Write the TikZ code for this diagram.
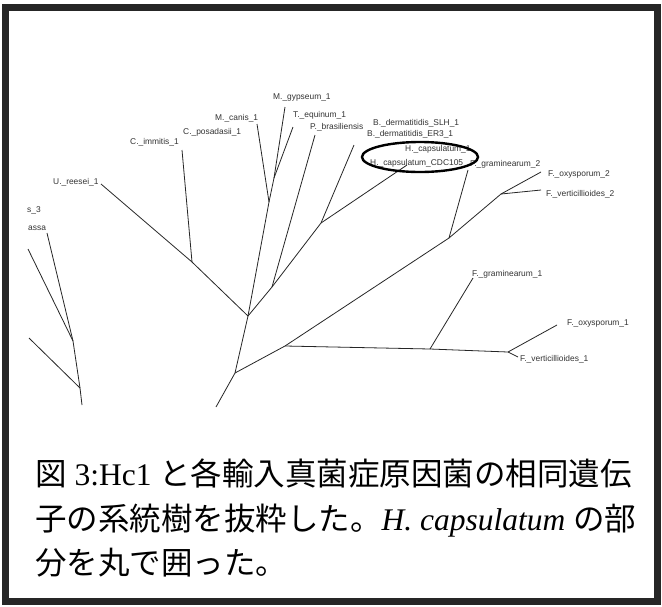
\documentclass[tikz,border=0pt]{standalone}
\usepackage{fontspec}
\setmainfont{Liberation Serif}
\newfontfamily\jpfont{Noto Sans CJK JP}
\newfontfamily\labfont{Liberation Sans}
\usetikzlibrary{shapes.geometric}
\tikzset{
  branch/.style={line width=0.8pt, draw=black!85},
  taxon/.style={anchor=base west, inner sep=0pt, font=\labfont\fontsize{8.4}{9}\selectfont, text=black!80},
  capline/.style={anchor=base west, inner sep=0pt, font=\fontsize{31.5}{40}\selectfont},
  frame/.style={line width=7pt, draw=black!85},
  ring/.style={draw=black, line width=2.4pt, ellipse, minimum width=116pt, minimum height=30pt, inner sep=0pt}
}
\begin{document}
\begin{tikzpicture}[x=1pt,y=-1pt]
\useasboundingbox (0,0) rectangle (662,606);
\fill[white] (0,0) rectangle (662,606);
\draw[frame] (5.5,7) rectangle (657,601.5);

% internal nodes
\coordinate (G) at (235,373);
\coordinate (R) at (216,407);
\coordinate (B) at (248,316);
\coordinate (A) at (192,262);
\coordinate (C) at (269,202);
\coordinate (D) at (274,178);
\coordinate (E) at (272,287);
\coordinate (F) at (321,223);
\coordinate (H) at (285,346);
\coordinate (I) at (449,238);
\coordinate (J) at (501,194);
\coordinate (K) at (430,349);
\coordinate (L) at (508,352);
% leaf ends
\coordinate (uE) at (101,184);
\coordinate (ciE) at (182,150);
\coordinate (mcE) at (257,124);
\coordinate (mgE) at (285,107);
\coordinate (teE) at (293,127);
\coordinate (pbE) at (315,135);
\coordinate (bdE) at (354,145);
\coordinate (hcE) at (407,165);
\coordinate (fg2E) at (468,170);
\coordinate (fo2E) at (541,172);
\coordinate (fv2E) at (541,190);
\coordinate (fg1E) at (473,278);
\coordinate (fo1E) at (557,325);
\coordinate (fv1E) at (518,357);
% left partial tree
\coordinate (N1) at (73,341);
\coordinate (N2) at (80,388);
\coordinate (l1E) at (47,233);
\coordinate (l2E) at (28,249);
\coordinate (l3E) at (29,338);
\coordinate (l4E) at (82,405);

\draw[branch] (R) -- (G) -- (B) -- (A) -- (uE);
\draw[branch] (A) -- (ciE);
\draw[branch] (B) -- (C) -- (mcE);
\draw[branch] (C) -- (D) -- (mgE);
\draw[branch] (D) -- (teE);
\draw[branch] (B) -- (E) -- (pbE);
\draw[branch] (E) -- (F) -- (bdE);
\draw[branch] (F) -- (hcE);
\draw[branch] (G) -- (H) -- (I) -- (fg2E);
\draw[branch] (I) -- (J) -- (fo2E);
\draw[branch] (J) -- (fv2E);
\draw[branch] (H) -- (K) -- (fg1E);
\draw[branch] (K) -- (L) -- (fo1E);
\draw[branch] (L) -- (fv1E);
\draw[branch] (l1E) -- (N1) -- (N2) -- (l4E);
\draw[branch] (l2E) -- (N1);
\draw[branch] (l3E) -- (N2);

% labels
\node[taxon] (mg) at (273,99) {M.\_gypseum\_1};
\node[taxon] (te) at (293,117) {T.\_equinum\_1};
\node[taxon] (mc) at (215,120) {M.\_canis\_1};
\node[taxon] (cp) at (183,134) {C.\_posadasii\_1};
\node[taxon] (ci) at (130,144) {C.\_immitis\_1};
\node[taxon] (ur) at (53,184) {U.\_reesei\_1};
\node[taxon] (s3) at (27,212) {s\_3};
\node[taxon] (as) at (28,230) {assa};
\node[taxon] (pb) at (310,129) {P.\_brasiliensis};
\node[taxon] (bd1) at (373,125) {B.\_dermatitidis\_SLH\_1};
\node[taxon] (bd2) at (367,136) {B.\_dermatitidis\_ER3\_1};
\node[taxon] (hc1) at (405,151) {H.\_capsulatum\_1};
\node[taxon] (hc2) at (370,165) {H.\_capsulatum\_CDC105};
\node[taxon] (fg2) at (470,166) {F.\_graminearum\_2};
\node[taxon] (fo2) at (548,176) {F.\_oxysporum\_2};
\node[taxon] (fv2) at (546,196) {F.\_verticillioides\_2};
\node[taxon] (fg1) at (472,276) {F.\_graminearum\_1};
\node[taxon] (fo1) at (567,325) {F.\_oxysporum\_1};
\node[taxon] (fv1) at (520,361) {F.\_verticillioides\_1};

\node[ring] (circ) at (420,157) {};

% caption
\node[capline] (c1) at (35,485) {{\jpfont 図} 3:Hc1 {\jpfont と各輸入真菌症原因菌の相同遺伝}};
\node[capline] (c2) at (35,530) {{\jpfont 子の系統樹を抜粋した。}\textit{H. capsulatum} {\jpfont の部}};
\node[capline] (c3) at (35,574) {{\jpfont 分を丸で囲った。}};
\end{tikzpicture}
\end{document}
